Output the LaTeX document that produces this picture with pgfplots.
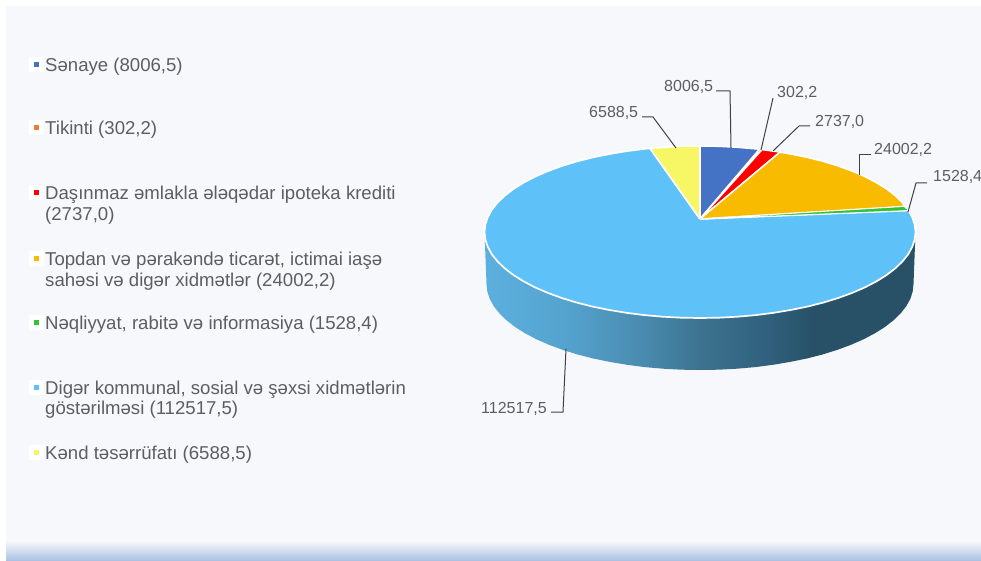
\documentclass[border=0pt]{standalone}
\usepackage{fontspec}
\setmainfont{Liberation Sans}
\usepackage{pgfplots}
\pgfplotsset{compat=1.18}
\definecolor{panel}{HTML}{F6F8FC}
\definecolor{barbot}{HTML}{A9BFE2}
\definecolor{txt}{HTML}{5E5E5E}
\definecolor{lead}{HTML}{404040}
\definecolor{cblue}{HTML}{4472C4}
\definecolor{corange}{HTML}{ED7D31}
\definecolor{cred}{HTML}{FF0000}
\definecolor{cgold}{HTML}{F8BB00}
\definecolor{cgreen}{HTML}{33C233}
\definecolor{csky}{HTML}{5EC2F8}
\definecolor{cyellow}{HTML}{F7F765}
\pgfdeclarehorizontalshading{wallshade}{100bp}{
 rgb(0bp)=(0.361,0.690,0.871);
 rgb(25bp)=(0.361,0.690,0.871);
 rgb(34.3bp)=(0.329,0.639,0.808);
 rgb(43bp)=(0.290,0.549,0.694);
 rgb(50bp)=(0.235,0.451,0.565);
 rgb(58bp)=(0.188,0.376,0.486);
 rgb(63bp)=(0.157,0.318,0.408);
 rgb(75bp)=(0.157,0.318,0.408);
 rgb(100bp)=(0.157,0.318,0.408)}
\newcommand{\legtxt}[3]{\node[anchor=base west,inner sep=0pt,text=txt,font=\fontsize{#3}{#3}\selectfont] at (axis cs:45,#1) {#2};}
\newcommand{\vallab}[3]{\node[anchor=base west,inner sep=0pt,text=txt,font=\fontsize{16}{16}\selectfont] at (axis cs:#1,#2) {#3};}
\pgfplotsset{legkey/.style={only marks,mark=square*,mark size=2pt,color=#1,mark options={solid,draw=#1,fill=#1,line width=0pt}}}
\begin{document}
\begin{tikzpicture}
\begin{axis}[
  scale only axis, width=981pt, height=561pt,
  xmin=0, xmax=981, ymin=0, ymax=561, y dir=reverse,
  hide axis, clip=true, line join=round
]
% page, panel and bottom band
\addplot[fill=white,draw=none] coordinates {(0,0)(981,0)(981,561)(0,561)(0,0)};
\addplot[fill=panel,draw=none] coordinates {(6,6)(981,6)(981,561)(6,561)(6,6)};
\addplot[draw=none,top color=panel,bottom color=barbot] coordinates {(6,541)(981,541)(981,561)(6,561)(6,541)};
% side wall of the pie
\addplot[draw=none,shading=wallshade] coordinates {
(484.5,232)(485.3,239.5)(487.8,246.9)(491.8,254.3)(497.5,261.4)(504.7,268.3)(513.4,275)(523.5,281.3)(534.9,287.3)(547.6,292.8)(561.5,297.9)(576.4,302.5)(592.2,306.5)(608.9,309.9)(626.3,312.8)(644.2,315.1)(662.6,316.7)(681.2,317.7)(700,318)(718.8,317.7)(737.4,316.7)(755.8,315.1)(773.7,312.8)(791.1,309.9)(807.8,306.5)(823.6,302.5)(838.5,297.9)(852.4,292.8)(865.1,287.3)(876.5,281.3)(886.6,275)(895.3,268.3)(902.5,261.4)(908.2,254.3)(912.2,246.9)(914.7,239.5)(915.5,232)
(913.5,284)(912.7,291.5)(910.3,298.9)(906.2,306.3)(900.6,313.4)(893.5,320.3)(884.9,327)(874.9,333.3)(863.5,339.3)(851,344.8)(837.2,349.9)(822.5,354.5)(806.8,358.5)(790.2,361.9)(773,364.8)(755.3,367.1)(737.1,368.7)(718.6,369.7)(700,370)(681.4,369.7)(662.9,368.7)(644.7,367.1)(627,364.8)(609.8,361.9)(593.2,358.5)(577.5,354.5)(562.8,349.9)(549,344.8)(536.5,339.3)(525.1,333.3)(515.1,327)(506.5,320.3)(499.4,313.4)(493.8,306.3)(489.7,298.9)(487.3,291.5)(486.5,284)(484.5,232)};
% top slices
\addplot[fill=csky,draw=white,line width=1.7pt] coordinates {
(700,219)(908.5,210.5)(912.2,217.1)(914.7,224.5)(915.5,232)(914.7,239.5)(912.2,246.9)(908.2,254.3)(902.5,261.4)(895.3,268.3)(886.6,275)(876.5,281.3)(865.1,287.3)(852.4,292.8)(838.5,297.9)(823.6,302.5)(807.8,306.5)(791.1,309.9)(773.7,312.8)(755.8,315.1)(737.4,316.7)(718.8,317.7)(700,318)(681.2,317.7)(662.6,316.7)(644.2,315.1)(626.3,312.8)(608.9,309.9)(592.2,306.5)(576.4,302.5)(561.5,297.9)(547.6,292.8)(534.9,287.3)(523.5,281.3)(513.4,275)(504.7,268.3)(497.5,261.4)(491.8,254.3)(487.8,246.9)(485.3,239.5)(484.5,232)(485.3,224.5)(487.8,217.1)(491.8,209.7)(497.5,202.6)(504.7,195.7)(513.4,189)(523.5,182.7)(534.9,176.7)(547.6,171.2)(561.5,166.1)(576.4,161.5)(592.2,157.5)(608.9,154.1)(626.3,151.2)(644.2,148.9)(650,148.3)(700,219)};
\addplot[fill=cyellow,draw=white,line width=1.5pt] coordinates {(700,219)(650,148.3)(662.6,147.3)(681.2,146.3)(700,146)(700,219)};
\addplot[fill=cblue,draw=white,line width=1.5pt] coordinates {(700,219)(700,146)(718.8,146.3)(737.4,147.3)(755.8,148.9)(759.5,149.3)(700,219)};
\addplot[fill=corange,draw=white,line width=1.5pt] coordinates {(700,219)(759.5,149.3)(762,149.6)(700,219)};
\addplot[fill=cred,draw=white,line width=1.5pt] coordinates {(700,219)(762,149.6)(773.7,151.2)(780,152.1)(700,219)};
\addplot[fill=cgold,draw=white,line width=1.5pt] coordinates {(700,219)(780,152.1)(791.1,154.1)(807.8,157.5)(823.6,161.5)(838.5,166.1)(852.4,171.2)(865.1,176.7)(876.5,182.7)(886.6,189)(895.3,195.7)(902.5,202.6)(904,206.5)(700,219)};
\addplot[fill=cgreen,draw=white,line width=0.8pt] coordinates {(700,219)(904,206.5)(908.5,210.5)(700,219)};
% leader lines
\addplot[lead,line width=1pt] coordinates {(716,91)(730,91)(731,148)};
\addplot[lead,line width=1pt] coordinates {(773,98)(761,150)};
\addplot[lead,line width=1pt] coordinates {(810,126)(799,126)(773,151)};
\addplot[lead,line width=1pt] coordinates {(871,155)(859,155)(859,175)};
\addplot[lead,line width=1pt] coordinates {(927,183)(916,183)(908,212)};
\addplot[lead,line width=1pt] coordinates {(642,117)(653,117)(676,148)};
\addplot[lead,line width=1pt] coordinates {(551,412)(563,412)(566,349)};
% value labels
\vallab{664}{92}{8006,5}
\vallab{777}{98}{302,2}
\vallab{815}{127}{2737,0}
\vallab{874}{155}{24002,2}
\vallab{933}{182}{1528,4}
\vallab{589}{118}{6588,5}
\vallab{481}{413}{112517,5}
% legend keys
\addplot[legkey=white,mark size=7pt] coordinates {(36,65)(36,128)(36,193)(36,258)(36,322)(36,387)(36,452)};
\addplot[legkey=cblue] coordinates {(36,65)};
\addplot[legkey=corange] coordinates {(36,128)};
\addplot[legkey=cred] coordinates {(36,193)};
\addplot[legkey=cgold] coordinates {(36,258)};
\addplot[legkey=cgreen] coordinates {(36,322)};
\addplot[legkey=csky] coordinates {(36,387)};
\addplot[legkey=cyellow] coordinates {(36,452)};
% legend text
\legtxt{71.6}{Sənaye (8006,5)}{18.6}
\legtxt{135}{Tikinti (302,2)}{18.6}
\legtxt{200}{Daşınmaz əmlakla ələqədar ipoteka krediti}{18.6}
\legtxt{221}{(2737,0)}{18.6}
\legtxt{265}{Topdan və pərakəndə ticarət, ictimai iaşə}{18.6}
\legtxt{286}{sahəsi və digər xidmətlər (24002,2)}{18.6}
\legtxt{329}{Nəqliyyat, rabitə və informasiya (1528,4)}{18.6}
\legtxt{394}{Digər kommunal, sosial və şəxsi xidmətlərin}{18.6}
\legtxt{414}{göstərilməsi (112517,5)}{18.6}
\legtxt{459}{Kənd təsərrüfatı (6588,5)}{18.6}
\end{axis}
\end{tikzpicture}
\end{document}
